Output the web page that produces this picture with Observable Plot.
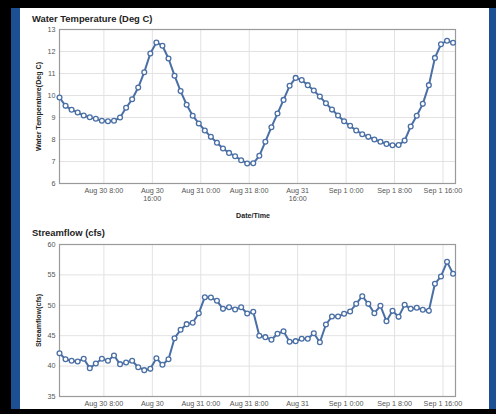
<!DOCTYPE html>
<html><head><meta charset="utf-8">
<script src="https://cdn.jsdelivr.net/npm/d3@7"></script>
<script src="https://cdn.jsdelivr.net/npm/@observablehq/plot@0.6"></script>
<style>
html,body{margin:0;padding:0;background:#000;width:496px;height:414px;overflow:hidden;font-family:"Liberation Sans",Arial,sans-serif;}
#panel{position:absolute;left:20px;top:8px;width:469px;height:401px;background:#fff;}
#lblue{position:absolute;left:11px;top:8px;width:9px;height:401px;background:#1d4f93;}
#rblue{position:absolute;left:489px;top:8px;width:7px;height:401px;background:#1d4f93;}
.title{position:absolute;left:32px;font-weight:bold;font-size:9.4px;line-height:1;color:#222;white-space:nowrap;}
#c1{position:absolute;left:20px;top:24px;}
#c2{position:absolute;left:20px;top:240px;}
#bottom{position:absolute;left:0;top:409px;width:496px;height:5px;background:#000;z-index:5;}
</style>
</head><body>
<div id="lblue"></div><div id="rblue"></div><div id="panel"></div>
<div class="title" style="top:14px">Water Temperature (Deg C)</div>
<div class="title" style="top:228px">Streamflow (cfs)</div>
<div id="c1"></div><div id="c2"></div>
<div id="bottom"></div>
<script>
// hourly readings starting Aug 30 0:40
const startTime = Date.UTC(2012, 7, 30, 0, 40);
const temperature = [9.91, 9.53, 9.35, 9.23, 9.09, 9.01, 8.94, 8.85, 8.83, 8.85,
  9.0, 9.44, 9.83, 10.36, 11.06, 11.91, 12.41, 12.26, 11.68, 10.9,
  10.2, 9.58, 9.08, 8.73, 8.41, 8.12, 7.85, 7.59, 7.39, 7.24,
  7.06, 6.91, 6.92, 7.26, 7.9, 8.56, 9.18, 9.8, 10.44, 10.8,
  10.7, 10.47, 10.23, 9.95, 9.65, 9.36, 9.09, 8.83, 8.62, 8.41,
  8.24, 8.12, 8.0, 7.9, 7.8, 7.74, 7.75, 7.95, 8.59, 9.08,
  9.62, 10.47, 11.71, 12.33, 12.49, 12.4];
const streamflow = [42.1, 41.13, 40.87, 40.76, 41.2, 39.66, 40.43, 41.2, 40.87, 41.74,
  40.32, 40.59, 40.87, 39.82, 39.33, 39.55, 41.3, 40.21, 41.13, 44.59,
  45.97, 46.9, 47.12, 48.7, 51.33, 51.28, 50.74, 49.42, 49.69, 49.3,
  49.69, 48.65, 48.93, 44.98, 44.76, 44.33, 45.31, 45.74, 44.0, 44.1,
  44.49, 44.49, 45.41, 43.93, 46.84, 48.16, 48.16, 48.6, 48.98, 50.24,
  51.5, 50.24, 48.7, 49.92, 47.39, 49.09, 48.1, 50.08, 49.42, 49.59,
  49.26, 49.09, 53.53, 54.74, 57.15, 55.18];
const tickTimes = ["2012-08-30T08:00Z", "2012-08-30T16:00Z", "2012-08-31T00:00Z", "2012-08-31T08:00Z",
  "2012-08-31T16:00Z", "2012-09-01T00:00Z", "2012-09-01T08:00Z", "2012-09-01T16:00Z"];
// top chart wraps the long labels onto two lines
const tickLabels = ["Aug 30 8:00", "Aug 30\n16:00", "Aug 31 0:00", "Aug 31 8:00",
  "Aug 31\n16:00", "Sep 1 0:00", "Sep 1 8:00", "Sep 1 16:00"];
// bottom chart: only the first line is visible above the window's lower edge
const tickLabelsBottom = ["Aug 30 8:00", "Aug 30", "Aug 31 0:00", "Aug 31 8:00",
  "Aug 31", "Sep 1 0:00", "Sep 1 8:00", "Sep 1 16:00"];
const tempTicks = [6, 7, 8, 9, 10, 11, 12, 13];
const flowTicks = [35, 40, 45, 50, 55, 60];

const xTicks = tickTimes.map(s => new Date(s));
const xDomain = [new Date(startTime), new Date(startTime + 65.4 * 3600e3)];
const blue = "#4a6fa5";

function chart({values, yDomain, yTicks, yLabel, labels, height, marginTop, marginBottom, xLabel}) {
  const data = values.map((v, i) => ({t: new Date(startTime + i * 3600e3), v}));
  const marks = [
    Plot.gridX(xTicks, {stroke: "#e2e2e2", strokeOpacity: 1}),
    Plot.gridY(yTicks, {stroke: "#e2e2e2", strokeOpacity: 1}),
    Plot.frame({stroke: "#9a9a9a", strokeWidth: 1.2}),
    Plot.axisX({ticks: xTicks, tickFormat: (d) => labels[xTicks.findIndex(t => +t === +d)], tickSize: 0, tickPadding: 4, lineHeight: 1.1, color: "#555", label: null}),
    Plot.axisY({ticks: yTicks, tickFormat: (d) => String(d), tickSize: 0, tickPadding: 4, color: "#555", label: null}),
    Plot.text([yLabel], {frameAnchor: "left", textAnchor: "middle", rotate: -90, dx: -20.7, fontWeight: "bold", fontSize: 7.1, fill: "#222"}),
    Plot.line(data, {x: "t", y: "v", stroke: blue, strokeWidth: 2}),
    Plot.dot(data, {x: "t", y: "v", r: 2.4, fill: "#fff", stroke: blue, strokeWidth: 1.3})
  ];
  if (xLabel) marks.push(Plot.text([xLabel], {frameAnchor: "bottom", dy: 34, dx: -4.5, fontWeight: "bold", fontSize: 7.1, fill: "#222"}));
  return Plot.plot({
    width: 469, height, marginLeft: 39, marginRight: 34, marginTop, marginBottom,
    style: {fontSize: "7.2px", fontFamily: "'Liberation Sans', Arial, sans-serif", background: "transparent", overflow: "visible"},
    x: {type: "utc", domain: xDomain},
    y: {domain: yDomain},
    marks
  });
}

document.getElementById("c1").append(chart({values: temperature, yDomain: [6, 13], yTicks: tempTicks, labels: tickLabels,
  yLabel: "Water Temperature(Deg C)", height: 200, marginTop: 5, marginBottom: 41, xLabel: "Date/Time"}));
document.getElementById("c2").append(chart({values: streamflow, yDomain: [35, 60], yTicks: flowTicks, labels: tickLabelsBottom,
  yLabel: "Streamflow(cfs)", height: 169, marginTop: 4, marginBottom: 13}));
</script>
</body></html>
